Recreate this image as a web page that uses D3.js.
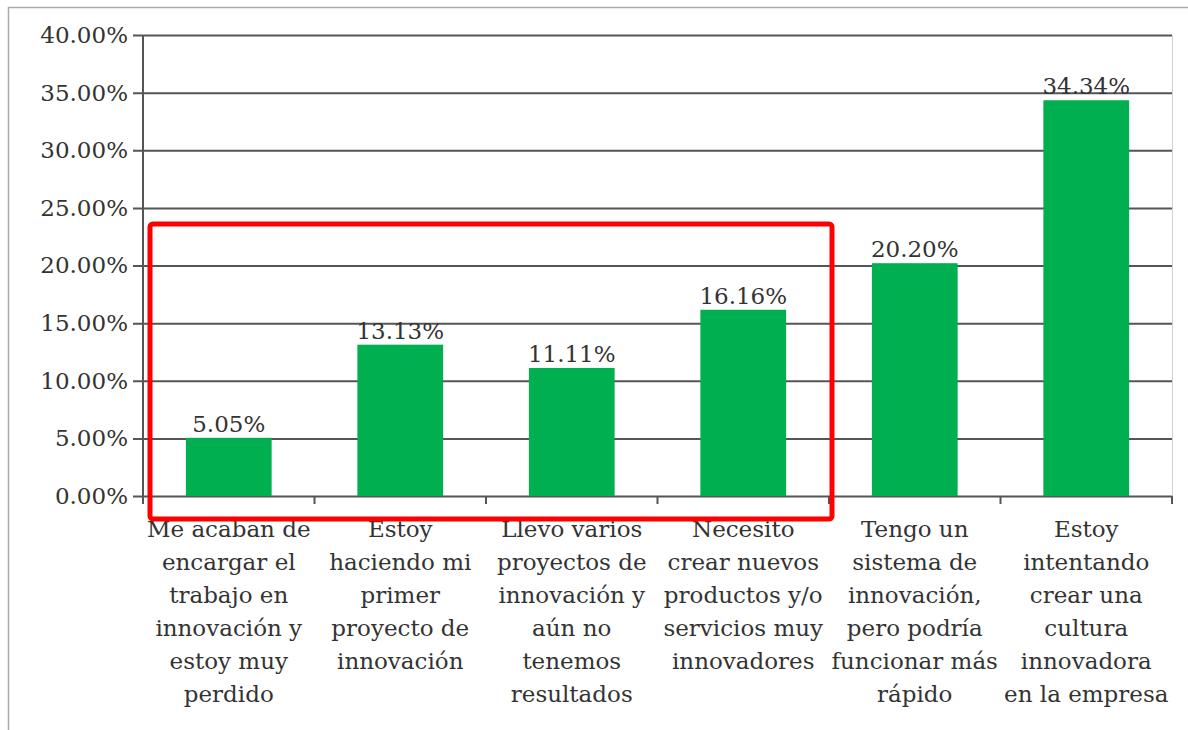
<!DOCTYPE html>
<html lang="es">
<head>
<meta charset="UTF-8">
<title>Innovación</title>
<script src="https://d3js.org/d3.v7.min.js"></script>
<style>
  body { margin: 0; background: #fff; }
  text { font-family: "DejaVu Serif", "Liberation Serif", serif; fill: #333; }
</style>
</head>
<body>
<script>
// categorías (una línea por renglón) y valores
var categories = [
  ["Me acaban de", "encargar el", "trabajo en", "innovación y", "estoy muy", "perdido"],
  ["Estoy", "haciendo mi", "primer", "proyecto de", "innovación"],
  ["Llevo varios", "proyectos de", "innovación y", "aún no", "tenemos", "resultados"],
  ["Necesito", "crear nuevos", "productos y/o", "servicios muy", "innovadores"],
  ["Tengo un", "sistema de", "innovación,", "pero podría", "funcionar más", "rápido"],
  ["Estoy", "intentando", "crear una", "cultura", "innovadora", "en la empresa"]
];
var values = [0.0505, 0.1313, 0.1111, 0.1616, 0.2020, 0.3434];
var yTicks = [0, 0.05, 0.10, 0.15, 0.20, 0.25, 0.30, 0.35, 0.40];

var width = 1188, height = 730;
var margin = { top: 35, right: 16, bottom: 234, left: 143 };

var svg = d3.select("body").append("svg")
    .attr("width", width)
    .attr("height", height);

// marco exterior
svg.append("rect")
    .attr("x", 8.5).attr("y", 7.5)
    .attr("width", width + 20).attr("height", height + 20)
    .attr("fill", "none")
    .attr("stroke", "#aaa")
    .attr("stroke-width", 1.5);

var ids = categories.map(function (d, i) { return i; });

var x = d3.scaleBand()
    .domain(ids)
    .range([margin.left, width - margin.right])
    .paddingInner(0.5)
    .paddingOuter(0.25);

var y = d3.scaleLinear()
    .domain([0, 0.4])
    .range([height - margin.bottom, margin.top]);

var fmt = d3.format(".2%");

// borde derecho del área
svg.append("line")
    .attr("x1", width - margin.right + 0.5).attr("x2", width - margin.right + 0.5)
    .attr("y1", margin.top).attr("y2", y(0))
    .attr("stroke", "#d0d0d0");

// eje Y con rejilla
var yAxis = svg.append("g")
    .attr("transform", "translate(" + margin.left + ",0)")
    .call(d3.axisLeft(y)
        .tickValues(yTicks)
        .tickFormat(fmt)
        .tickSize(10)
        .tickPadding(5));
yAxis.select(".domain").remove();
yAxis.selectAll(".tick line")
    .attr("x2", width - margin.right - margin.left)
    .attr("x1", -10)
    .attr("stroke", "#555")
    .attr("stroke-width", 2);
yAxis.selectAll(".tick text")
    .style("font-size", "23px")
    .attr("fill", "#333");

// línea vertical del eje
svg.append("line")
    .attr("x1", margin.left).attr("x2", margin.left)
    .attr("y1", margin.top).attr("y2", y(0) + 8)
    .attr("stroke", "#555")
    .attr("stroke-width", 2);

// marcas del eje X (entre categorías)
var step = x.step();
var bounds = d3.range(categories.length + 1).map(function (i) { return margin.left + i * step; });
svg.selectAll("line.xtick")
    .data(bounds)
    .enter().append("line")
    .attr("class", "xtick")
    .attr("x1", function (d) { return d; })
    .attr("x2", function (d) { return d; })
    .attr("y1", y(0))
    .attr("y2", y(0) + 8)
    .attr("stroke", "#555")
    .attr("stroke-width", 2);

// barras
svg.selectAll("rect.bar")
    .data(values)
    .enter().append("rect")
    .attr("class", "bar")
    .attr("x", function (d, i) { return x(i); })
    .attr("y", function (d) { return y(d); })
    .attr("width", x.bandwidth())
    .attr("height", function (d) { return y(0) - y(d); })
    .attr("fill", "#00b050");

// etiquetas de valor
svg.selectAll("text.val")
    .data(values)
    .enter().append("text")
    .attr("class", "val")
    .attr("x", function (d, i) { return x(i) + x.bandwidth() / 2; })
    .attr("y", function (d) { return y(d) - 6; })
    .attr("text-anchor", "middle")
    .style("font-size", "23px")
    .text(function (d) { return fmt(d); });

// etiquetas de categoría
var labels = svg.selectAll("text.cat")
    .data(categories)
    .enter().append("text")
    .attr("class", "cat")
    .attr("text-anchor", "middle")
    .style("font-size", "23px");
labels.each(function (lines, i) {
    var t = d3.select(this);
    lines.forEach(function (line, j) {
        t.append("tspan")
            .attr("x", x(i) + x.bandwidth() / 2)
            .attr("y", y(0) + 41 + j * 33)
            .text(line);
    });
});

// recuadro rojo
svg.append("rect")
    .attr("x", 150).attr("y", 224)
    .attr("width", 682).attr("height", 295)
    .attr("rx", 3)
    .attr("fill", "none")
    .attr("stroke", "#ff0000")
    .attr("stroke-width", 5);
</script>
</body>
</html>
